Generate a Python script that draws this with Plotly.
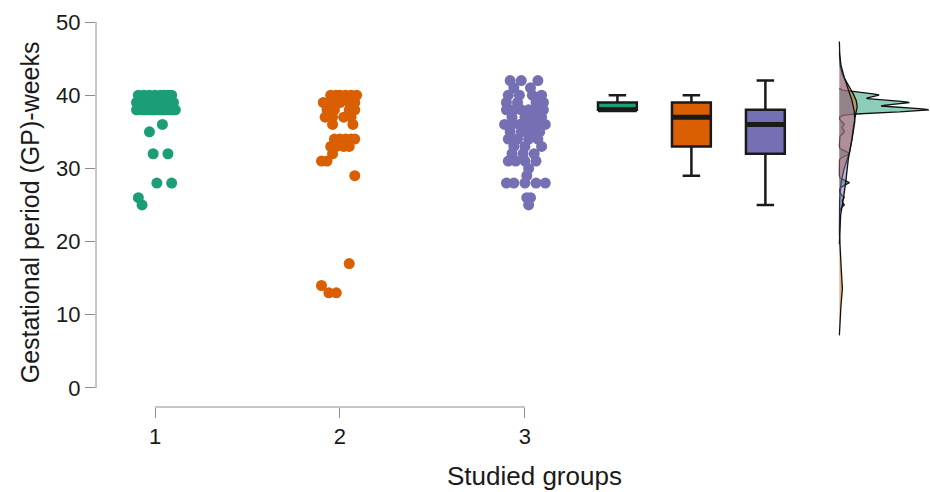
import numpy as np
import plotly.graph_objects as go

# ---------------- data ----------------
group_labels = ["1", "2", "3"]
group_positions = [1, 2, 3]
y_ticks = [0, 10, 20, 30, 40, 50]

g1_values = [40, 40, 40, 40, 40, 40, 40, 40,
             39, 39, 39, 39, 39, 39, 39, 39, 39, 39, 39, 39, 39, 39,
             38, 38, 38, 38, 38, 38, 38, 38, 38, 38, 38, 38, 38, 38, 38, 38, 38, 38,
             36, 35, 32, 32, 28, 28, 26, 25]
g1_jitter = [-0.09, -0.06, -0.03, 0.0, 0.03, 0.05, 0.07, 0.09,
             -0.10, -0.08, -0.06, -0.05, -0.03, -0.02, 0.0, 0.01, 0.03, 0.04, 0.06, 0.07, 0.09, 0.10,
             -0.10, -0.09, -0.07, -0.06, -0.05, -0.03, -0.02, -0.01, 0.0, 0.02, 0.03, 0.04, 0.05, 0.06, 0.08, 0.09, 0.10, 0.11,
             0.04, -0.03, -0.01, 0.07, 0.01, 0.09, -0.09, -0.07]

g2_values = [40, 40, 40, 40, 40, 40,
             39, 39, 39, 39, 39, 39,
             38, 38, 38, 38,
             37, 37, 37, 37,
             36, 36,
             34, 34, 34, 34, 34,
             33, 33, 33, 33,
             32, 31, 31, 29, 17, 14, 13, 13]
g2_jitter = [-0.05, -0.02, 0.0, 0.03, 0.06, 0.09,
             -0.09, -0.06, -0.03, 0.0, 0.05, 0.08,
             -0.07, -0.03, 0.05, 0.08,
             -0.08, -0.04, 0.02, 0.06,
             -0.04, 0.07,
             -0.03, 0.0, 0.03, 0.06, 0.08,
             -0.05, -0.02, 0.02, 0.05,
             -0.04, -0.10, -0.07, 0.08, 0.05, -0.10, -0.06, -0.02]

g3_values = [42, 42, 42, 41, 41,
             40, 40, 40, 40,
             39, 39, 39, 39,
             38, 38, 38, 38, 38, 38,
             37, 37, 37, 37,
             36, 36, 36, 36, 36, 36, 36,
             35, 35, 35, 35,
             34, 34, 34, 34,
             33, 33, 33,
             32, 32, 32,
             31, 31, 31, 31,
             30, 29,
             28, 28, 28, 28, 28,
             26, 26, 25]
g3_jitter = [-0.08, -0.02, 0.07, -0.06, 0.03,
             -0.09, -0.03, 0.04, 0.09,
             -0.10, -0.04, 0.06, 0.10,
             -0.10, -0.06, -0.02, 0.02, 0.06, 0.10,
             -0.07, 0.0, 0.05, 0.09,
             -0.11, -0.07, -0.03, 0.0, 0.04, 0.08, 0.11,
             -0.08, -0.02, 0.03, 0.08,
             -0.09, -0.04, 0.02, 0.07,
             -0.06, 0.0, 0.09,
             -0.07, -0.01, 0.05,
             -0.09, -0.05, 0.0, 0.06,
             0.02, 0.01,
             -0.10, -0.06, 0.0, 0.06, 0.11,
             0.01, 0.03, 0.02]

colors = ["#1b9e77", "#d95f02", "#7570b3"]
fills = ["rgba(27,158,119,0.5)", "rgba(217,95,2,0.5)", "rgba(117,112,179,0.5)"]

groups = [g1_values, g2_values, g3_values]
jitters = [g1_jitter, g2_jitter, g3_jitter]

box_positions = [3.5, 3.9, 4.3]
box_width = 0.21
density_base = 4.70
density_max_width = 0.48


def fivenum(v):
    s = np.sort(np.asarray(v, dtype=float))
    n = len(s)
    n4 = np.floor((n + 3) / 2) / 2
    d = np.array([1, n4, (n + 1) / 2, n + 1 - n4, n]) - 1
    return 0.5 * (s[np.floor(d).astype(int)] + s[np.ceil(d).astype(int)])


def bw_nrd0(v):
    v = np.asarray(v, dtype=float)
    sd = v.std(ddof=1)
    iqr = np.subtract(*np.percentile(v, [75, 25]))
    lo = min(sd, iqr / 1.34)
    if lo <= 0:
        lo = sd
    return 0.9 * lo * len(v) ** (-0.2)


def kde(v):
    v = np.asarray(v, dtype=float)
    bw = bw_nrd0(v)
    grid = np.linspace(v.min() - 3 * bw, v.max() + 3 * bw, 512)
    dens = np.exp(-0.5 * ((grid[:, None] - v[None, :]) / bw) ** 2).sum(1)
    dens /= (len(v) * bw * np.sqrt(2 * np.pi))
    return grid, dens


fig = go.Figure()

# jittered points
for pos, vals, jit, col in zip(group_positions, groups, jitters, colors):
    fig.add_trace(go.Scatter(
        x=[pos + j for j in jit], y=vals, mode="markers",
        marker=dict(color=col, size=11, line=dict(width=0)),
        showlegend=False, hoverinfo="y"))

# box plots
for bpos, vals, col in zip(box_positions, groups, colors):
    mn, q1, med, q3, mx = fivenum(vals)
    iqr = q3 - q1
    arr = np.asarray(vals, dtype=float)
    lf = arr[arr >= q1 - 1.5 * iqr].min()
    uf = arr[arr <= q3 + 1.5 * iqr].max()
    fig.add_trace(go.Box(
        x=[bpos], q1=[q1], median=[med], q3=[q3], lowerfence=[lf], upperfence=[uf],
        fillcolor=col, line=dict(color="#1a1a1a", width=2.5), width=box_width,
        whiskerwidth=0.45, boxpoints=False, showlegend=False))
    fig.add_trace(go.Scatter(
        x=[bpos - box_width / 2, bpos + box_width / 2], y=[med, med], mode="lines",
        line=dict(color="#1a1a1a", width=5), showlegend=False, hoverinfo="skip"))

# densities
kdes = [kde(v) for v in groups]
peak = max(d.max() for _, d in kdes)
scale = density_max_width / peak
for (grid, dens), fc in zip(kdes, fills):
    xs = np.concatenate([[density_base], density_base + dens * scale, [density_base]])
    ys = np.concatenate([[grid[0]], grid, [grid[-1]]])
    fig.add_trace(go.Scatter(
        x=xs, y=ys, mode="lines", fill="toself", fillcolor=fc,
        line=dict(color="#111111", width=1.3), showlegend=False, hoverinfo="skip"))

axis_col = "#8c8c8c"
font_family = "Liberation Sans, Arial, sans-serif"

fig.update_layout(
    width=930, height=492,
    margin=dict(l=96, r=0, t=22, b=85),
    plot_bgcolor="white", paper_bgcolor="white",
    font=dict(family=font_family, color="#1a1a1a", size=22),
    xaxis=dict(range=[0.681, 5.19], tickvals=group_positions, ticktext=group_labels,
               showgrid=False, zeroline=False, showline=False,
               ticks="outside", ticklen=10, tickcolor=axis_col, tickwidth=1,
               tickfont=dict(size=22)),
    yaxis=dict(range=[-2.6, 50], tickvals=y_ticks, showgrid=False, zeroline=False,
               showline=False, ticks="outside", ticklen=10, tickcolor=axis_col,
               tickwidth=1, tickfont=dict(size=22)),
    shapes=[
        dict(type="line", xref="paper", yref="y", x0=0, x1=0,
             y0=min(y_ticks), y1=max(y_ticks), line=dict(color=axis_col, width=1)),
        dict(type="line", xref="x", yref="paper", x0=min(group_positions),
             x1=max(group_positions), y0=0, y1=0, line=dict(color=axis_col, width=1)),
    ],
    annotations=[
        dict(text="Gestational period (GP)-weeks", textangle=-90, xref="paper", yref="paper",
             x=-0.079, y=0.506, xanchor="center", yanchor="middle", showarrow=False,
             font=dict(size=25)),
        dict(text="Studied groups", xref="paper", yref="paper", x=0.526, y=-0.179,
             xanchor="center", yanchor="middle", showarrow=False, font=dict(size=26)),
    ],
)

fig.write_html("out.html", config={"displayModeBar": False},
               post_script="document.body.style.margin='0';")
